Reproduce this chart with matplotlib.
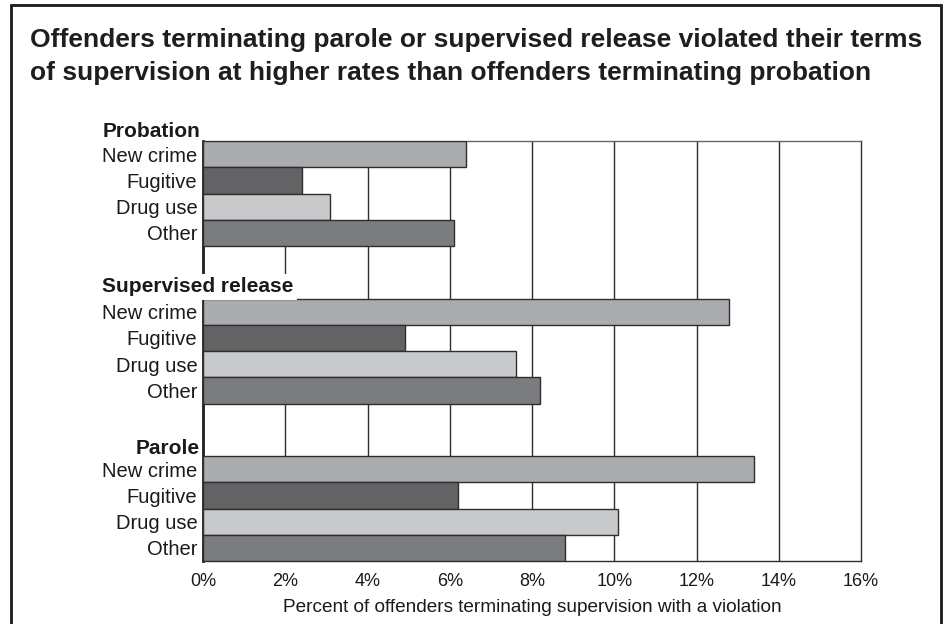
import matplotlib
matplotlib.use("Agg")
import matplotlib.pyplot as plt
from matplotlib.patches import Rectangle

plt.rcParams['font.family'] = ['Liberation Sans', 'DejaVu Sans']

title_lines = [
    "Offenders terminating parole or supervised release violated their terms",
    "of supervision at higher rates than offenders terminating probation",
]
groups = ["Probation", "Supervised release", "Parole"]
categories = ["New crime", "Fugitive", "Drug use", "Other"]
probation = [6.4, 2.4, 3.1, 6.1]
supervised_release = [12.8, 4.9, 7.6, 8.2]
parole = [13.4, 6.2, 10.1, 8.8]
group_values = [probation, supervised_release, parole]
xticks = [0, 2, 4, 6, 8, 10, 12, 14, 16]
xtick_labels = ["0%", "2%", "4%", "6%", "8%", "10%", "12%", "14%", "16%"]
xlabel = "Percent of offenders terminating supervision with a violation"

colors = ["#abacb0", "#636365", "#c8c9cb", "#7b7c80"]

W, H = 947, 624
fig = plt.figure(figsize=(W / 100, H / 100), dpi=100)
ax = fig.add_axes([203 / W, 1 - 561 / H, 658 / W, 420 / H])

slots_per_group = len(categories) + 2
ytick_pos, ytick_lab = [], []
for gi, vals in enumerate(group_values):
    for ci, v in enumerate(vals):
        y = gi * slots_per_group + ci + 0.5
        ax.barh(y, v, height=1.0, color=colors[ci], edgecolor="#2e2e2e",
                linewidth=1.0, zorder=3)
        ytick_pos.append(y)
        ytick_lab.append(categories[ci])

total = len(groups) * slots_per_group - 2
ax.set_ylim(total, 0)
ax.set_xlim(0, 16)
ax.set_yticks(ytick_pos)
ax.set_yticklabels(ytick_lab, fontsize=14.5, color="#1a1a1a")
ax.set_xticks(xticks)
ax.set_xticklabels(xtick_labels, fontsize=13, color="#1a1a1a")
ax.tick_params(axis="both", length=0)
ax.tick_params(axis="y", pad=4)
ax.tick_params(axis="x", pad=9)
ax.set_xlabel(xlabel, fontsize=13.7, color="#1a1a1a", labelpad=6)

for x in xticks[1:-1]:
    ax.axvline(x, color="#2e2e2e", linewidth=1.0, zorder=1)

for s in ["top", "right", "bottom"]:
    ax.spines[s].set_color("#2e2e2e")
    ax.spines[s].set_linewidth(1.0)
ax.spines["top"].set_color("#666666")
ax.spines["left"].set_color("#1e1e1e")
ax.spines["left"].set_linewidth(2.0)

# group labels
grp_y = [-0.38, 5.56, 11.73]
grp_x = [200, 102, 200]
grp_ha = ["right", "left", "right"]
for g, yy, xx, ha in zip(groups, grp_y, grp_x, grp_ha):
    xa = (xx - 203) / 658
    t = ax.text(xa, yy, g, transform=ax.get_yaxis_transform(), ha=ha, va="center",
                fontsize=15, fontweight="bold", color="#1a1a1a", zorder=10,
                clip_on=False)
    if g == "Supervised release":
        t.set_bbox(dict(facecolor="white", edgecolor="none", pad=2.5))

# title
fig.text(30 / W, 1 - 47 / H, title_lines[0], ha="left", va="baseline",
         fontsize=19, fontweight="bold", color="#1e1e1e")
fig.text(30 / W, 1 - 80 / H, title_lines[1], ha="left", va="baseline",
         fontsize=19, fontweight="bold", color="#1e1e1e")

# frame
fig.patches.append(Rectangle((11 / W, -0.02), (941 - 11) / W, 1 - 5 / H + 0.02,
                             transform=fig.transFigure, fill=False,
                             edgecolor="#1a1a1a", linewidth=2.0))

fig.savefig("out.png", dpi=100)
